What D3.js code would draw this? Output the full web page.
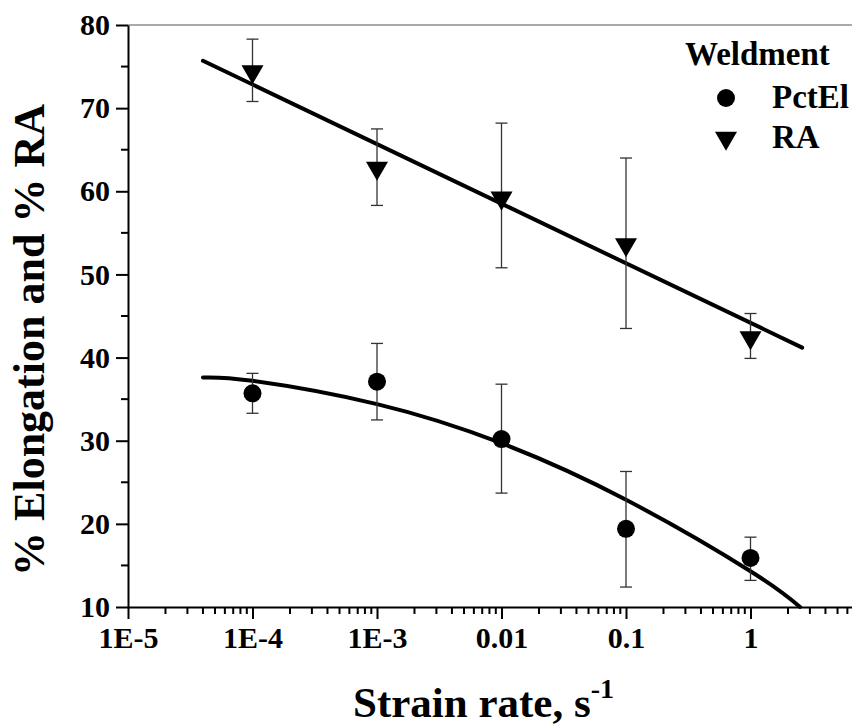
<!DOCTYPE html>
<html>
<head>
<meta charset="utf-8">
<script src="https://cdn.jsdelivr.net/npm/d3@7"></script>
<style>
  body { margin: 0; background: #fff; }
</style>
</head>
<body>
<svg id="chart" width="852" height="726"></svg>
<script>
// data
const rates = [1e-4, 1e-3, 1e-2, 1e-1, 1];
const pctEl = [35.7, 37.1, 30.2, 19.4, 15.9];
const pctElLow = [33.3, 32.5, 23.7, 12.4, 13.2];
const pctElHigh = [38.1, 41.7, 36.8, 26.3, 18.4];
const ra = [74.4, 62.8, 59.2, 53.6, 42.4];
const raLow = [70.8, 58.3, 50.8, 43.5, 39.9];
const raHigh = [78.3, 67.5, 68.2, 64.0, 45.3];

// fitted curves, points picked along the drawn lines
const pctElFitX = [4e-5, 1e-4, 1e-3, 1e-2, 1e-1, 1, 2.5];
const pctElFitY = [37.6, 37.2, 34.4, 29.7, 22.9, 14.3, 10.0];
const raFitX = [4e-5, 2.6];
const raFitY = [75.7, 41.2];

const yTicks = [10, 20, 30, 40, 50, 60, 70, 80];
const xTicks = [1e-5, 1e-4, 1e-3, 1e-2, 1e-1, 1];
const xTickLabels = ["1E-5", "1E-4", "1E-3", "0.01", "0.1", "1"];

const FONT = "Liberation Serif, DejaVu Serif";

const svg = d3.select("#chart");

const mLeft = 128, mTop = 25, mBottom = 607, mRight = 852;

const x = d3.scaleLog().domain([1e-5, Math.pow(10, (mRight - mLeft) / 124.5 - 5)]).range([mLeft, mRight]);
const y = d3.scaleLinear().domain([10, 80]).range([mBottom, mTop]);

// top frame line
svg.append("line").attr("x1", mLeft).attr("x2", mRight).attr("y1", mTop).attr("y2", mTop)
  .attr("stroke", "#555").attr("stroke-width", 1);

// y axis
const yMinor = d3.range(15, 80, 10);
const yAxis = svg.append("g").attr("transform", `translate(${mLeft},0)`);
yAxis.call(d3.axisLeft(y).tickValues(yTicks).tickSize(12).tickSizeOuter(0).tickPadding(6));
yAxis.attr("font-family", FONT).attr("font-size", 30).attr("font-weight", "bold");
yAxis.selectAll(".tick text").attr("fill", "#000");
yAxis.selectAll(".tick line").attr("stroke-width", 2);
yAxis.select(".domain").attr("stroke-width", 2);
yAxis.selectAll(".minor").data(yMinor).enter().append("line").attr("class", "minor")
  .attr("x1", -7).attr("x2", 0).attr("y1", d => y(d)).attr("y2", d => y(d))
  .attr("stroke", "#000").attr("stroke-width", 2);

// x axis
const xMinor = [];
for (let e = -5; e <= 0; e++) for (let m = 2; m <= 9; m++) {
  const v = m * Math.pow(10, e);
  if (v < x.domain()[1]) xMinor.push(v);
}
const xAxis = svg.append("g").attr("transform", `translate(0,${mBottom})`);
xAxis.call(d3.axisBottom(x).tickValues(xTicks).tickFormat((d, i) => xTickLabels[i]).tickSize(12).tickSizeOuter(0).tickPadding(8));
xAxis.attr("font-family", FONT).attr("font-size", 30).attr("font-weight", "bold");
xAxis.selectAll(".tick text").attr("fill", "#000");
xAxis.selectAll(".tick line").attr("stroke-width", 2);
xAxis.select(".domain").attr("stroke-width", 2);
xAxis.selectAll(".minor").data(xMinor).enter().append("line").attr("class", "minor")
  .attr("x1", d => x(d)).attr("x2", d => x(d)).attr("y1", 0).attr("y2", 7)
  .attr("stroke", "#000").attr("stroke-width", 2);

const labels = svg.append("g").attr("font-family", FONT).attr("font-weight", "bold");

// axis titles
labels.append("text").attr("transform", "translate(44,340) rotate(-90)")
  .attr("text-anchor", "middle").attr("font-size", 44).text("% Elongation and % RA");

const xt = labels.append("text").attr("x", 353).attr("y", 717).attr("font-size", 43);
xt.append("tspan").text("Strain rate, s");
xt.append("tspan").attr("dy", -19).attr("font-size", 28).text("-1");

// fit lines
const line = d3.line().x(d => x(d[0])).y(d => y(d[1]));
svg.append("path").datum(d3.zip(raFitX, raFitY)).attr("d", line)
  .attr("fill", "none").attr("stroke", "#000").attr("stroke-width", 4).attr("stroke-linecap", "round");
svg.append("path").datum(d3.zip(pctElFitX, pctElFitY)).attr("d", line.curve(d3.curveNatural))
  .attr("fill", "none").attr("stroke", "#000").attr("stroke-width", 4).attr("stroke-linecap", "round");

// error bars
function errorBars(lo, hi) {
  const g = svg.append("g").attr("stroke", "#333").attr("stroke-width", 1.3);
  rates.forEach((r, i) => {
    g.append("line").attr("x1", x(r)).attr("x2", x(r)).attr("y1", y(lo[i])).attr("y2", y(hi[i]));
    g.append("line").attr("x1", x(r) - 6).attr("x2", x(r) + 6).attr("y1", y(lo[i])).attr("y2", y(lo[i]));
    g.append("line").attr("x1", x(r) - 6).attr("x2", x(r) + 6).attr("y1", y(hi[i])).attr("y2", y(hi[i]));
  });
}
errorBars(raLow, raHigh);
errorBars(pctElLow, pctElHigh);

// markers
const tri = d3.symbol().type(d3.symbolTriangle).size(210);
svg.selectAll(".ra").data(rates).enter().append("path").attr("class", "ra")
  .attr("d", tri).attr("transform", (d, i) => `translate(${x(d)},${y(ra[i])}) rotate(180)`)
  .attr("fill", "#000");
svg.selectAll(".el").data(rates).enter().append("circle").attr("class", "el")
  .attr("cx", d => x(d)).attr("cy", (d, i) => y(pctEl[i])).attr("r", 9).attr("fill", "#000");

// legend
labels.append("text").attr("x", 685).attr("y", 65).attr("font-size", 33).text("Weldment");
svg.append("circle").attr("cx", 726).attr("cy", 98).attr("r", 9).attr("fill", "#000");
labels.append("text").attr("x", 772).attr("y", 108).attr("font-size", 33).text("PctEl");
svg.append("path").attr("d", tri).attr("transform", "translate(726,138) rotate(180)").attr("fill", "#000");
labels.append("text").attr("x", 772).attr("y", 148).attr("font-size", 33).text("RA");
</script>
</body>
</html>
